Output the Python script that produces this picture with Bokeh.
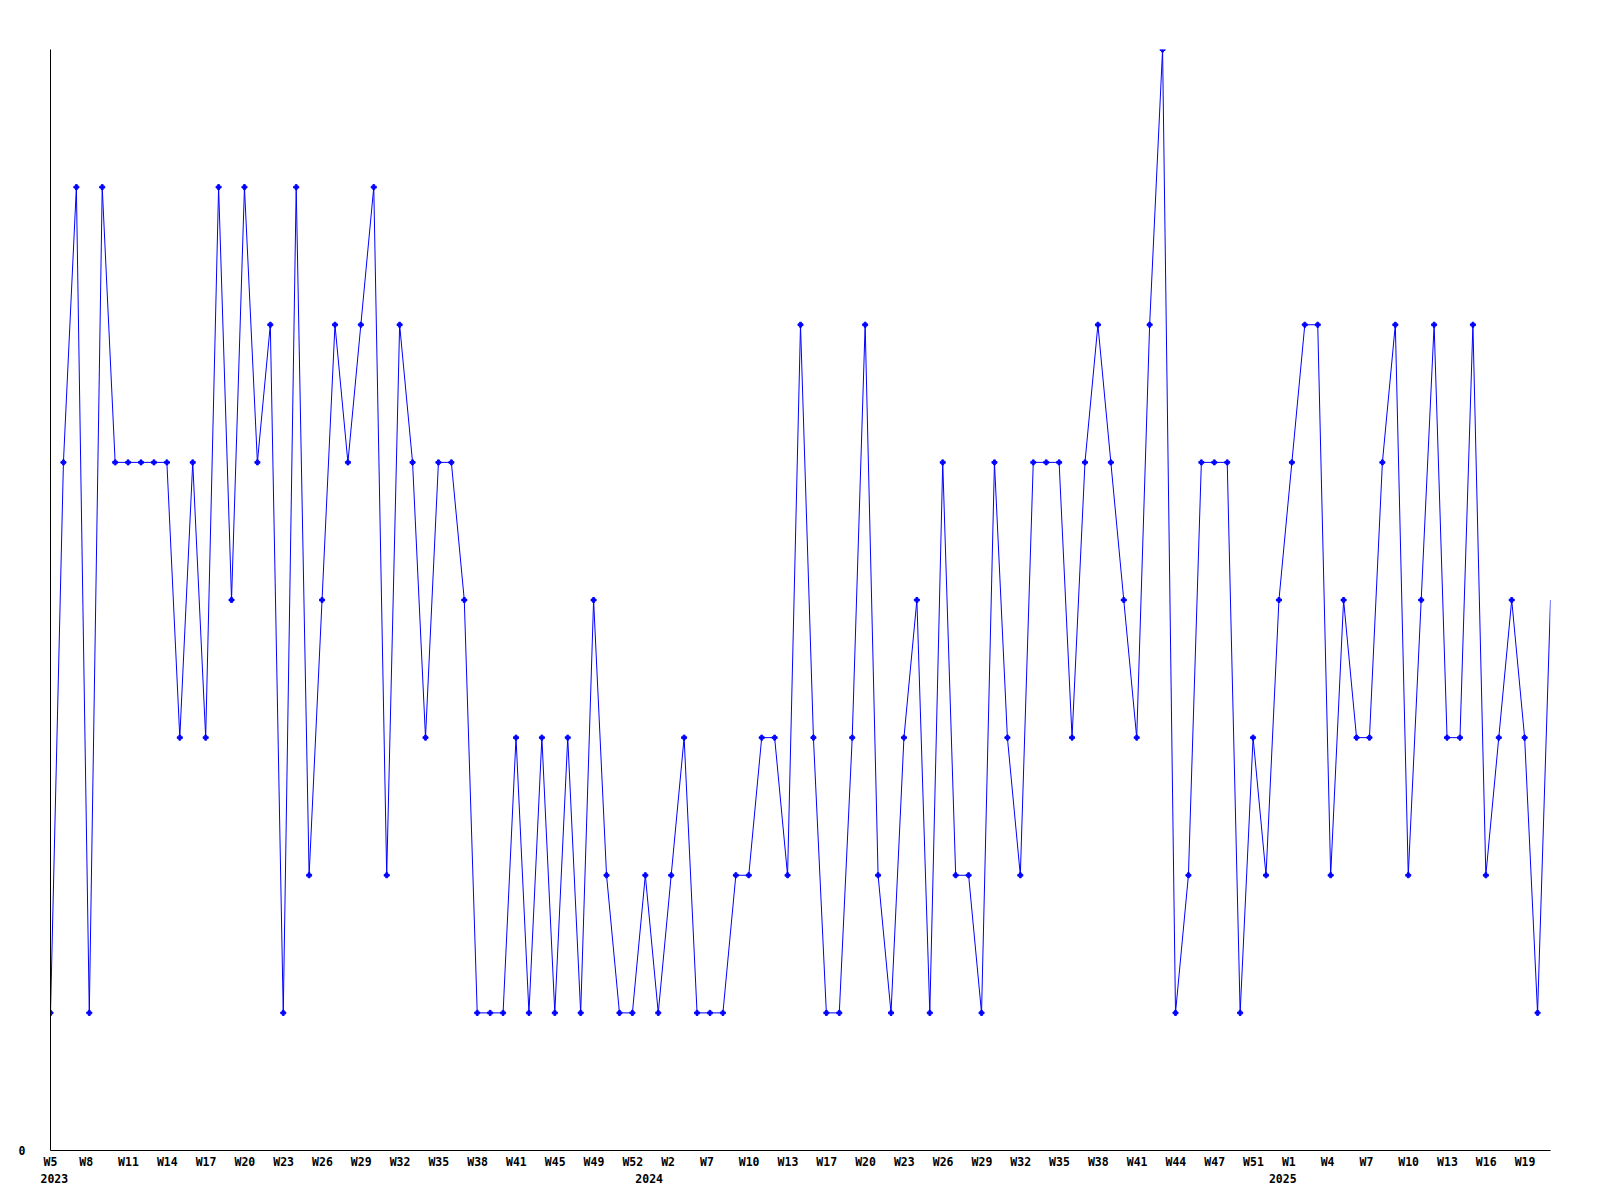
from bokeh.plotting import figure
from bokeh.models import Range1d, FixedTicker, LinearAxis, CustomJSTickFormatter
from bokeh.embed import file_html
from bokeh.resources import INLINE

# weekly values, one per point (2023 W5 ... 2025)
values = [1, 5, 7, 1, 7, 5, 5, 5, 5, 5, 3, 5, 3, 7, 4, 7, 5, 6, 1, 7,
          2, 4, 6, 5, 6, 7, 2, 6, 5, 3, 5, 5, 4, 1, 1, 1, 3, 1, 3, 1,
          3, 1, 4, 2, 1, 1, 2, 1, 2, 3, 1, 1, 1, 2, 2, 3, 3, 2, 6, 3,
          1, 1, 3, 6, 2, 1, 3, 4, 1, 5, 2, 2, 1, 5, 3, 2, 5, 5, 5, 3,
          5, 6, 5, 4, 3, 6, 8, 1, 2, 5, 5, 5, 1, 3, 2, 4, 5, 6, 6, 2,
          4, 3, 3, 5, 6, 2, 4, 6, 3, 3, 6, 2, 3, 4, 3, 1, 4]

# week tick labels, one every third point
week_labels = ["W5", "W8", "W11", "W14", "W17", "W20", "W23", "W26", "W29", "W32",
               "W35", "W38", "W41", "W45", "W49", "W52", "W2", "W7", "W10", "W13",
               "W17", "W20", "W23", "W26", "W29", "W32", "W35", "W38", "W41", "W44",
               "W47", "W51", "W1", "W4", "W7", "W10", "W13", "W16", "W19"]
week_label_step = 3

# year labels and the point where each year starts
year_labels = ["2023", "2024", "2025"]
year_first_point = [0, 46, 95]

n = len(values)
xs = list(range(n))

W, H = 1592, 1192
LEFT, TOP, RIGHT, BOTTOM = 50, 49, 42, 42
frame_w = W - LEFT - RIGHT
px_per_unit = frame_w / (n - 1)

FONT = "DejaVu Sans Mono"
FS = 11.5
FSIZE = f"{FS}px"
CHAR_W = 0.602 * FS          # monospace advance


def centre_tick(pos, label):
    # labels start 10px left of their point; axis labels are centred on the tick
    t = pos + (len(label) * CHAR_W / 2 - 10) / px_per_unit
    return max(t, 0.0)


p = figure(width=W, height=H, output_backend="svg", toolbar_location=None,
           title=None, x_range=Range1d(0, n - 1), y_range=Range1d(0, max(values)),
           min_border_left=LEFT, min_border_right=RIGHT, min_border_top=TOP,
           min_border_bottom=BOTTOM)

p.outline_line_color = None
p.xgrid.visible = False
p.ygrid.visible = False
p.background_fill_color = "white"
p.border_fill_color = "white"


def style(ax):
    ax.axis_line_color = "black"
    ax.axis_line_width = 1
    ax.major_tick_out = 0
    ax.major_tick_in = 0
    ax.minor_tick_out = 0
    ax.minor_tick_in = 0
    ax.major_label_text_font = FONT
    ax.major_label_text_font_style = "bold"
    ax.major_label_text_font_size = FSIZE
    ax.major_label_text_color = "black"


style(p.yaxis[0])
p.yaxis[0].ticker = FixedTicker(ticks=[0])
p.yaxis[0].major_label_standoff = 25

xa = p.xaxis[0]
style(xa)
xa.ticker = FixedTicker(ticks=[centre_tick(i * week_label_step, lbl)
                               for i, lbl in enumerate(week_labels)])
xa.formatter = CustomJSTickFormatter(
    args=dict(labels=week_labels, step=week_label_step),
    code="return labels[Math.round(tick / step)];")
xa.major_label_standoff = 4

ya = LinearAxis()
style(ya)
ya.axis_line_color = None
ya.ticker = FixedTicker(ticks=[centre_tick(v, lbl)
                               for v, lbl in zip(year_first_point, year_labels)])
ya.formatter = CustomJSTickFormatter(
    args=dict(labels=year_labels, starts=year_first_point),
    code="""
let best = 0;
for (let i = 0; i < starts.length; i++) {
  if (Math.abs(starts[i] - tick) < Math.abs(starts[best] - tick)) best = i;
}
return labels[best];""")
ya.major_label_standoff = 2
p.add_layout(ya, "below")

p.line(xs, values, line_color="#0000ff", line_width=1)
p.scatter(xs[:-1], values[:-1], marker="plus", size=5, color="#0000ff")

open("out.html", "w").write(file_html(p, INLINE))
